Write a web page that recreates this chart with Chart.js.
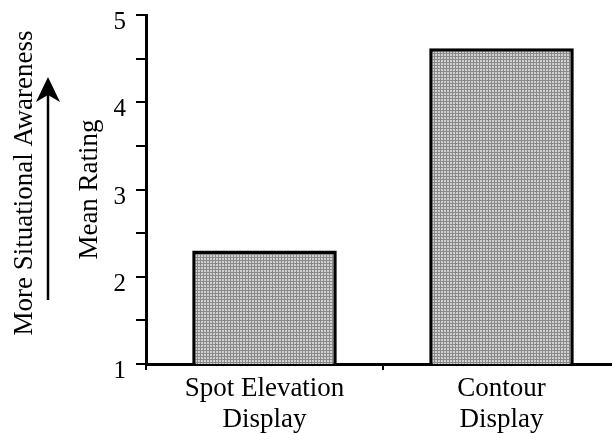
<!DOCTYPE html>
<html>
<head>
<meta charset="utf-8">
<script src="https://cdn.jsdelivr.net/npm/chart.js@4/dist/chart.umd.min.js"></script>
<style>
  html, body { margin: 0; padding: 0; background: #fff; overflow: hidden; }
</style>
</head>
<body>
<canvas id="grafico" width="620" height="433"></canvas>
<script>
  // Dados do gráfico
  const categorias = [["Spot Elevation", "Display"], ["Contour", "Display"]];
  const mediaAvaliacao = [2.3, 4.62];
  const ticksY = [1, 2, 3, 4, 5];

  const FONTE = "'Liberation Serif', 'Times New Roman', serif";

  // Retícula (meio-tom) para preencher as barras
  function criarRetícula() {
    const c = document.createElement("canvas");
    c.width = 3; c.height = 3;
    const g = c.getContext("2d");
    g.fillStyle = "#8a8a8a";
    g.fillRect(0, 0, 3, 3);
    g.fillStyle = "#d0d0d0";
    g.fillRect(0, 0, 2, 2);
    return g.createPattern(c, "repeat");
  }

  // Texto lateral e seta ("More Situational Awareness")
  const legendaLateral = {
    id: "legendaLateral",
    afterDraw(chart) {
      const ctx = chart.ctx;
      ctx.save();
      ctx.fillStyle = "#000";
      ctx.font = "27px " + FONTE;
      ctx.translate(25, 183);
      ctx.rotate(-Math.PI / 2);
      ctx.textAlign = "center";
      ctx.textBaseline = "middle";
      ctx.fillText("More Situational Awareness", 0, 0);
      ctx.restore();

      ctx.save();
      ctx.strokeStyle = "#000";
      ctx.fillStyle = "#000";
      ctx.lineWidth = 2.5;
      ctx.beginPath();
      ctx.moveTo(48, 300);
      ctx.lineTo(48, 90);
      ctx.stroke();
      ctx.beginPath();
      ctx.moveTo(48, 77);
      ctx.lineTo(60, 102);
      ctx.lineTo(48, 95);
      ctx.lineTo(36, 102);
      ctx.closePath();
      ctx.fill();
      ctx.restore();
    }
  };

  const ctx = document.getElementById("grafico");
  new Chart(ctx, {
    type: "bar",
    data: {
      labels: categorias,
      datasets: [{
        label: "Mean Rating",
        data: mediaAvaliacao,
        backgroundColor: criarRetícula(),
        borderColor: "#000",
        borderWidth: 3.5,
        barPercentage: 0.61,
        categoryPercentage: 1.0
      }]
    },
    options: {
      responsive: false,
      animation: false,
      layout: { padding: { left: 74, top: 15, right: 0, bottom: 0 } },
      plugins: {
        legend: { display: false },
        tooltip: { enabled: false }
      },
      scales: {
        x: {
          afterFit(scale) { scale.height = 69; },
          grid: {
            offset: true,
            drawOnChartArea: false,
            drawTicks: true,
            tickLength: 6,
            color: "#000",
            lineWidth: 2
          },
          border: { display: true, color: "#000", width: 3 },
          ticks: {
            color: "#000",
            padding: 3,
            font: { family: FONTE, size: 27, lineHeight: 1.17 }
          }
        },
        y: {
          min: 1,
          max: 5,
          afterFit(scale) {
            scale.width = 72;
            scale.paddingTop = 0;
            scale.paddingBottom = 0;
          },
          title: {
            display: true,
            text: "Mean Rating",
            color: "#000",
            padding: 0,
            font: { family: FONTE, size: 27 }
          },
          grid: {
            drawOnChartArea: false,
            drawTicks: true,
            tickLength: 10,
            color: "#000",
            lineWidth: 2
          },
          border: { display: true, color: "#000", width: 3 },
          ticks: {
            stepSize: 0.5,
            autoSkip: false,
            color: "#000",
            padding: 10,
            font: { family: FONTE, size: 25, lineHeight: 0.6 },
            // rótulos só nos inteiros, um pouco abaixo da marca
            callback: v => ticksY.includes(v) ? ["", String(v)] : ""
          }
        }
      }
    },
    plugins: [legendaLateral]
  });
</script>
</body>
</html>
